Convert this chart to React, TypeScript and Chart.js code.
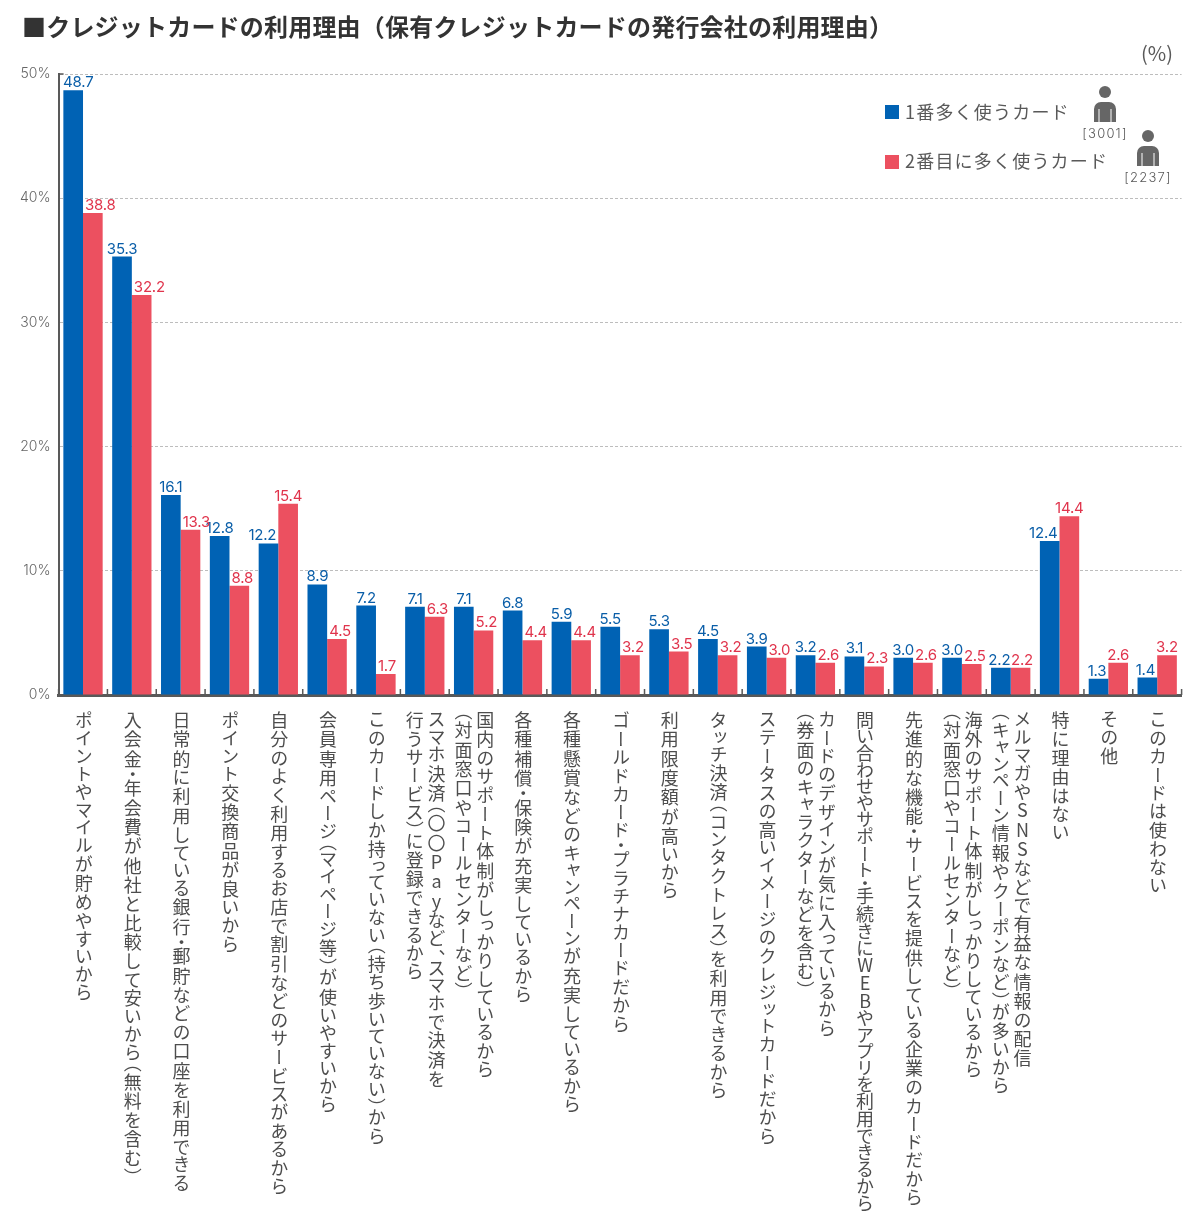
import React, { useEffect, useRef, useState } from "react";
import { Chart, registerables } from "chart.js";

Chart.register(...registerables);

const categoryLines: string[][] = [
  ["ポイントやマイルが貯めやすいから"],
  ["入会金・年会費が他社と比較して安いから（無料を含む）"],
  ["日常的に利用している銀行・郵貯などの口座を利用できる"],
  ["ポイント交換商品が良いから"],
  ["自分のよく利用するお店で割引などのサービスがあるから"],
  ["会員専用ページ（マイページ等）が使いやすいから"],
  ["このカードしか持っていない（持ち歩いていない）から"],
  ["スマホ決済（〇〇Payなど、スマホで決済を", "行うサービス）に登録できるから"],
  ["国内のサポート体制がしっかりしているから", "（対面窓口やコールセンターなど）"],
  ["各種補償・保険が充実しているから"],
  ["各種懸賞などのキャンペーンが充実しているから"],
  ["ゴールドカード・プラチナカードだから"],
  ["利用限度額が高いから"],
  ["タッチ決済（コンタクトレス）を利用できるから"],
  ["ステータスの高いイメージのクレジットカードだから"],
  ["カードのデザインが気に入っているから", "（券面のキャラクターなどを含む）"],
  ["問い合わせやサポート・手続きにWEBやアプリを利用できるから"],
  ["先進的な機能・サービスを提供している企業のカードだから"],
  ["海外のサポート体制がしっかりしているから", "（対面窓口やコールセンターなど）"],
  ["メルマガやSNSなどで有益な情報の配信", "（キャンペーン情報やクーポンなど）が多いから"],
  ["特に理由はない"],
  ["その他"],
  ["このカードは使わない"],
];

const firstCard = [48.7, 35.3, 16.1, 12.8, 12.2, 8.9, 7.2, 7.1, 7.1, 6.8, 5.9, 5.5, 5.3, 4.5, 3.9, 3.2, 3.1, 3.0, 3.0, 2.2, 12.4, 1.3, 1.4];
const secondCard = [38.8, 32.2, 13.3, 8.8, 15.4, 4.5, 1.7, 6.3, 5.2, 4.4, 4.4, 3.2, 3.5, 3.2, 3.0, 2.6, 2.3, 2.6, 2.5, 2.2, 14.4, 2.6, 3.2];

const seriesNames = ["1番多く使うカード", "2番目に多く使うカード"];
const sampleSizes = ["[3001]", "[2237]"];
const titleText = "■クレジットカードの利用理由（保有クレジットカードの発行会社の利用理由）";
const unitText = "(%)";

const BLUE = "#0062b4";
const RED = "#ec5060";
const BLUE_TEXT = "#0a5ea8";
const RED_TEXT = "#e0344c";
const GREY = "#595959";
const JP = '"Noto Sans CJK JP", sans-serif';
const NUM = 'Inter, "Noto Sans", sans-serif';

const decorPlugin = {
  id: "decor",
  afterDatasetsDraw(chart: any) {
    const { ctx, scales } = chart;
    const x = scales.x;
    const base = scales.y.getPixelForValue(0);
    ctx.save();

    ctx.strokeStyle = GREY;
    ctx.lineWidth = 1.5;
    const half = (x.getPixelForValue(1) - x.getPixelForValue(0)) / 2;
    ctx.beginPath();
    for (let i = 0; i <= categoryLines.length; i++) {
      const px = x.getPixelForValue(i) - half;
      ctx.moveTo(px, base);
      ctx.lineTo(px, base - 6);
    }
    const top = scales.y.getPixelForValue(50);
    ctx.moveTo(x.left, top);
    ctx.lineTo(x.left + 5, top);
    ctx.stroke();

    // value labels: a label wider than its bar moves away from a taller neighbour
    ctx.textAlign = "center";
    ctx.textBaseline = "alphabetic";
    ctx.font = `400 15px ${NUM}`;
    ctx.letterSpacing = "-0.2px";
    chart.data.datasets.forEach((ds: any, di: number) => {
      const meta = chart.getDatasetMeta(di);
      const other = chart.data.datasets[1 - di].data;
      ctx.fillStyle = di === 0 ? BLUE_TEXT : RED_TEXT;
      meta.data.forEach((bar: any, i: number) => {
        const text = ds.data[i].toFixed(1);
        const hw = ctx.measureText(text).width / 2;
        let cx = bar.x;
        if (ds.data[i] < other[i]) {
          const shift = Math.max(0, hw + 2 - bar.width / 2);
          cx += di === 0 ? -shift : shift;
        } else if (ds.data[i] === other[i]) {
          cx += di === 0 ? -1.5 : 1.5;
        }
        const minX = x.left + 4.5 + hw;
        ctx.fillText(text, Math.max(cx, minX), bar.y - 3);
      });
    });
    ctx.letterSpacing = "0px";

    // title
    ctx.textAlign = "left";
    ctx.textBaseline = "middle";
    ctx.fillStyle = "#333333";
    ctx.font = `700 24px ${JP}`;
    ctx.letterSpacing = "0.2px";
    ctx.fillText(titleText, 22, 27);
    ctx.letterSpacing = "0px";

    // unit
    ctx.textAlign = "right";
    ctx.fillStyle = GREY;
    ctx.font = `400 20px ${JP}`;
    ctx.fillText(unitText, 1173, 53);

    // legend
    const rows = [
      { sy: 105, ty: 112, ix: 1105, iy: 86, ly: 134 },
      { sy: 155, ty: 161, ix: 1148, iy: 130, ly: 178 },
    ];
    rows.forEach((r, i) => {
      ctx.fillStyle = chart.data.datasets[i].backgroundColor;
      ctx.fillRect(885, r.sy, 14, 14);
      ctx.textAlign = "left";
      ctx.fillStyle = GREY;
      ctx.font = `400 18px ${JP}`;
      ctx.letterSpacing = "1.2px";
      ctx.fillText(chart.data.datasets[i].label, 905, r.ty);
      ctx.letterSpacing = "0px";

      ctx.fillStyle = "#666666";
      ctx.beginPath();
      ctx.arc(r.ix, r.iy + 6, 6, 0, Math.PI * 2);
      ctx.fill();
      ctx.beginPath();
      ctx.roundRect(r.ix - 11, r.iy + 16, 22, 20, [7, 7, 0, 0]);
      ctx.fill();
      ctx.strokeStyle = "#ffffff";
      ctx.lineWidth = 1;
      ctx.beginPath();
      ctx.moveTo(r.ix - 6, r.iy + 23);
      ctx.lineTo(r.ix - 6, r.iy + 36);
      ctx.moveTo(r.ix + 6, r.iy + 23);
      ctx.lineTo(r.ix + 6, r.iy + 36);
      ctx.stroke();

      ctx.textAlign = "center";
      ctx.fillStyle = GREY;
      ctx.font = `300 13px ${NUM}`;
      ctx.letterSpacing = "1.2px";
      ctx.fillText(sampleSizes[i], r.ix, r.ly);
      ctx.letterSpacing = "0px";
    });
    ctx.restore();
  },
};

export default function App() {
  const canvasRef = useRef<HTMLCanvasElement | null>(null);
  const [centers, setCenters] = useState<number[]>([]);

  useEffect(() => {
    document.body.style.margin = "0";
    const chart = new Chart(canvasRef.current as HTMLCanvasElement, {
      type: "bar",
      data: {
        labels: categoryLines.map((l) => l.join("")),
        datasets: [
          { label: seriesNames[0], data: firstCard, backgroundColor: BLUE, barPercentage: 1, categoryPercentage: 0.805 },
          { label: seriesNames[1], data: secondCard, backgroundColor: RED, barPercentage: 1, categoryPercentage: 0.805 },
        ],
      },
      options: {
        responsive: false,
        animation: false,
        layout: { padding: { top: 74, right: 18.4, left: 0, bottom: 0 } },
        plugins: { legend: { display: false }, tooltip: { enabled: false }, title: { display: false } },
        scales: {
          x: {
            afterFit: (s: any) => { s.height = 518; },
            grid: { display: false },
            border: { display: true, color: GREY, width: 3 },
            ticks: { display: false },
          },
          y: {
            min: 0,
            max: 50,
            afterFit: (s: any) => { s.width = 58.6; },
            grid: { color: "#bdbdbd", drawTicks: false, lineWidth: 1 },
            border: { display: true, color: GREY, width: 2, dash: [3, 2] },
            ticks: {
              stepSize: 10,
              padding: 8,
              color: "#666666",
              font: { family: NUM, size: 14, weight: "300" },
              callback: (v: any) => `${v}%`,
            },
          },
        },
      },
      plugins: [decorPlugin],
    } as any);
    const x = chart.scales.x;
    setCenters(categoryLines.map((_, i) => x.getPixelForValue(i)));
    return () => chart.destroy();
  }, []);

  return (
    <div style={{ position: "absolute", left: 0, top: 0, width: 1200, height: 1213, overflow: "hidden", background: "#fff" }}>
      <canvas ref={canvasRef} width={1200} height={1213} style={{ display: "block" }} />
      {centers.map((cx, i) => (
        <div
          key={i}
          style={{
            position: "absolute",
            top: 711,
            left: cx,
            transform: "translateX(-50%)",
            writingMode: "vertical-rl",
            textOrientation: "upright",
            whiteSpace: "nowrap",
            fontFamily: JP,
            fontSize: 18,
            lineHeight: "21.7px",
            letterSpacing: categoryLines[i][0].length >= 30 ? "-0.3px" : "1.4px",
            fontFeatureSettings: '"vpal"',
            color: "#4d4d4d",
          }}
        >
          {categoryLines[i].map((line, j) => (
            <div key={j}>{line}</div>
          ))}
        </div>
      ))}
    </div>
  );
}
